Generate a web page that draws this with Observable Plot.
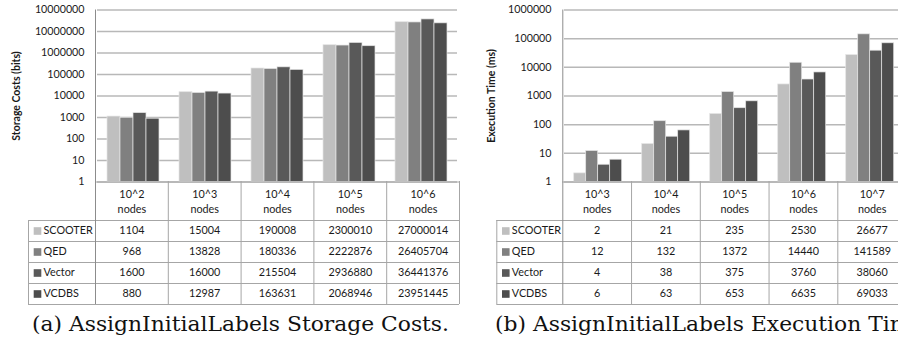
<!DOCTYPE html>
<html><head><meta charset="utf-8">
<script src="https://cdn.jsdelivr.net/npm/d3@7"></script>
<script src="https://cdn.jsdelivr.net/npm/@observablehq/plot@0.6"></script>
<style>
body{margin:0;background:#fff;}
#root{position:relative;width:898px;height:343px;overflow:hidden;background:#fff;}
.cap{font-family:"DejaVu Serif";font-size:19.5px;white-space:nowrap;color:#111;line-height:1;transform-origin:0 0;}
</style></head><body><div id="root"></div>
<script>
const seriesNames = ["SCOOTER","QED","Vector","VCDBS"];
const seriesColors = ["#bfbfbf","#808080","#595959","#4d4d4d"];

const storageCats = ["10^2","10^3","10^4","10^5","10^6"];
const storageScooter = [1104,15004,190008,2300010,27000014];
const storageQED = [968,13828,180336,2222876,26405704];
const storageVector = [1600,16000,215504,2936880,36441376];
const storageVCDBS = [880,12987,163631,2068946,23951445];
const storageTicks = [1,10,100,1000,1e4,1e5,1e6,1e7,1e8];
const storageTickLabels = ["1","10","100","1000","10000","100000","1000000","10000000","10000000"];
const storageTitle = "Storage Costs (bits)";
const storageCaption = "(a) AssignInitialLabels Storage Costs.";

const timeCats = ["10^3","10^4","10^5","10^6","10^7"];
const timeScooter = [2,21,235,2530,26677];
const timeQED = [12,132,1372,14440,141589];
const timeVector = [4,38,375,3760,38060];
const timeVCDBS = [6,63,653,6635,69033];
const timeTicks = [1,10,100,1000,1e4,1e5,1e6];
const timeTickLabels = ["1","10","100","1000","10000","100000","1000000"];
const timeTitle = "Execution Time (ms)";
const timeCaption = "(b) AssignInitialLabels Execution Time";

const root = document.getElementById("root");
const FONT = "Lato";
const TEXT = "#1a1a1a";
const LINE = "#a6a6a6";
const AXIS = "#8c8c8c";
const PLOT_TOP = 9.5;
const TABLE_TOP = 181;
const captions = [];

function place(node, left, top) {
  node.style.position = "absolute";
  node.style.left = left + "px";
  node.style.top = top + "px";
  root.appendChild(node);
}

function panel({left, cats, values, ticks, tickLabels, title, caption, marginLeft, colWidth, pad, titleOffset, legendWidth, captionDx}) {
  const n = cats.length;
  const width = Math.ceil(marginLeft + n * colWidth) + 1;
  const marginRight = width - marginLeft - n * colWidth;
  const rows = [];
  cats.forEach((c, i) => seriesNames.forEach((s, j) => rows.push({cat: c, series: s, value: values[j][i], ci: i, si: j})));

  const bars = Plot.plot({
    width, height: 183,
    marginLeft, marginRight, marginTop: PLOT_TOP, marginBottom: 1.5,
    style: {fontFamily: FONT, fontSize: "10.7px", color: TEXT, background: "transparent", overflow: "visible"},
    fx: {domain: cats, padding: 0, axis: null},
    x: {domain: seriesNames, paddingInner: 0, paddingOuter: pad, axis: null},
    y: {type: "log", domain: [ticks[0], ticks[ticks.length - 1]], axis: null},
    color: {domain: seriesNames, range: seriesColors},
    marks: [
      Plot.gridY(ticks, {stroke: "#b8b8b8", strokeOpacity: 1, strokeWidth: 1.5}),
      Plot.barY(rows, {fx: "cat", x: "series", y1: ticks[0], y2: "value", fill: "series", stroke: "#e4e4e4", strokeWidth: 0.7}),
      Plot.axisY(ticks, {anchor: "left", tickSize: 0, tickPadding: 13, tickFormat: d => tickLabels[ticks.indexOf(d)], label: null, fill: TEXT, fontSize: 10.7}),
      Plot.axisY([], {anchor: "left", tickSize: 0, label: title, labelAnchor: "center", labelArrow: "none", labelOffset: titleOffset, fontWeight: "bold", fontSize: 10.5, fill: TEXT})
    ]
  });
  place(bars, left, 0);

  const headerH = 39;
  const rowH = 21;
  const tableH = headerH + seriesNames.length * rowH;
  const table = Plot.plot({
    width, height: tableH + 1,
    marginLeft, marginRight, marginTop: headerH, marginBottom: 1,
    style: {fontFamily: FONT, fontSize: "10.8px", color: TEXT, background: "transparent", overflow: "visible"},
    x: {type: "linear", domain: [0, n], axis: null},
    y: {type: "linear", domain: [0, seriesNames.length], reverse: true, axis: null},
    color: {domain: seriesNames, range: seriesColors},
    marks: [
      Plot.ruleY(d3.range(seriesNames.length + 1), {y: d => d, insetLeft: -legendWidth, stroke: LINE}),
      Plot.ruleY([0], {y: d => d, dy: -(headerH - 0.5), stroke: LINE}),
      Plot.ruleX(d3.range(1, n + 1), {x: d => d, y1: 0, y2: seriesNames.length, insetTop: -headerH, stroke: LINE}),
      Plot.ruleX([0], {x: d => d, y1: 0, y2: seriesNames.length, dx: -legendWidth, stroke: LINE}),
      Plot.ruleX([0], {x: d => d, y1: 0, y2: seriesNames.length, insetTop: -(headerH + TABLE_TOP - PLOT_TOP), stroke: AXIS}),
      Plot.text(cats, {x: (d, i) => i + 0.5, frameAnchor: "top", lineAnchor: "middle", dy: -(headerH - 19), text: d => d + "\nnodes", lineHeight: 1.45, fill: TEXT}),
      Plot.dot(seriesNames, {y: (d, i) => i + 0.5, frameAnchor: "left", dx: -(legendWidth - 9), symbol: "square", r: 4.3, fill: d => d}),
      Plot.text(seriesNames, {y: (d, i) => i + 0.5, frameAnchor: "left", dx: -(legendWidth - 15), textAnchor: "start", fill: TEXT}),
      Plot.text(rows, {x: d => d.ci + 0.5, y: d => d.si + 0.5, text: d => String(d.value), fill: TEXT})
    ]
  });
  place(table, left, TABLE_TOP);

  const cap = document.createElement("div");
  cap.className = "cap";
  cap.textContent = caption;
  place(cap, left + marginLeft - legendWidth + captionDx, 315);
  captions.push(cap);
}

panel({left: 0, cats: storageCats, values: [storageScooter, storageQED, storageVector, storageVCDBS],
  ticks: storageTicks, tickLabels: storageTickLabels, title: storageTitle, caption: storageCaption,
  marginLeft: 95, colWidth: 72.8, pad: 0.72, titleOffset: 85, legendWidth: 67, captionDx: 3.5});
panel({left: 462, cats: timeCats, values: [timeScooter, timeQED, timeVector, timeVCDBS],
  ticks: timeTicks, tickLabels: timeTickLabels, title: timeTitle, caption: timeCaption,
  marginLeft: 100.3, colWidth: 68.75, pad: 0.7, titleOffset: 77, legendWidth: 66, captionDx: -1});

// stretch the serif captions horizontally to the reference's wider text
const w0 = captions[0].getBoundingClientRect().width;
const k = 417 / w0;
captions.forEach(c => c.style.transform = `scaleX(${k})`);
</script></body></html>
